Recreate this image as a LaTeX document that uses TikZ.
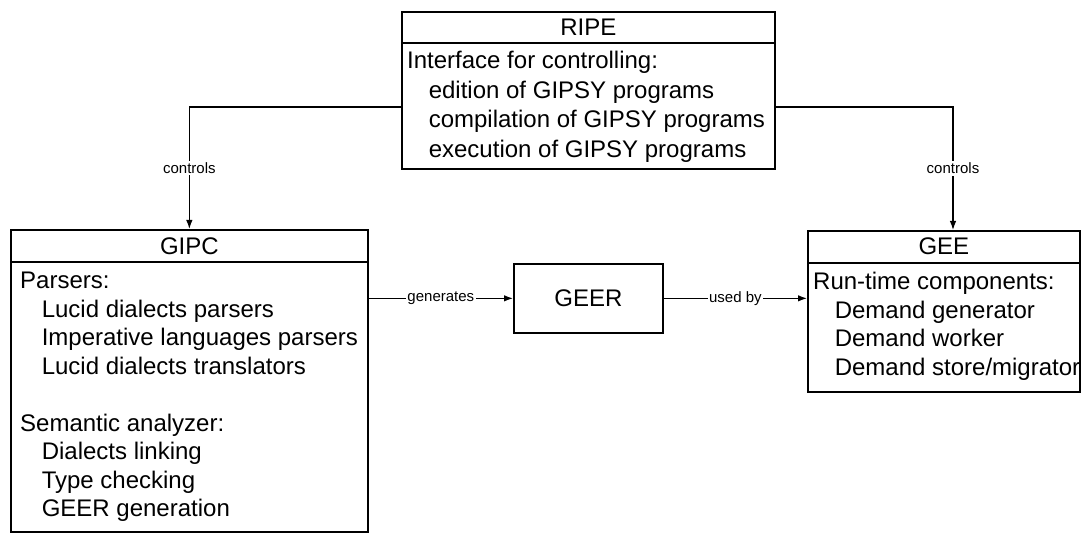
\documentclass[tikz,border=0pt]{standalone}
\usepackage{fontspec}
\setmainfont{Liberation Sans}
\usetikzlibrary{arrows.meta,calc}

\tikzset{
  box/.style={draw, line width=1.7pt, inner sep=0pt, anchor=north west},
  headline/.style={line width=1.5pt},
  titletext/.style={font=\fontsize{24}{28.5}\selectfont, inner sep=0pt},
  bodytext/.style={font=\fontsize{24}{28.5}\selectfont, align=left, inner sep=0pt, anchor=north west},
  conn/.style={line width=1.2pt, -{Latex[length=9pt,width=6.5pt]}},
  lbl/.style={font=\fontsize{15}{18}\selectfont, fill=white, inner sep=1.5pt},
}
\newcommand{\ind}{\hspace*{0.9em}}

\begin{document}
\begin{tikzpicture}[x=1pt,y=-1pt]
\useasboundingbox (0,0) rectangle (1082,534);

% component boxes
\node[box, minimum width=373pt, minimum height=157pt] (ripe) at (401,11) {};
\node[box, minimum width=357pt, minimum height=302pt] (gipc) at (10,229) {};
\node[box, minimum width=272pt, minimum height=161pt] (gee) at (807,230) {};
\node[box, minimum width=149pt, minimum height=69pt] (geer) at (513,263) {};

% header separators
\draw[headline] ([yshift=-32pt]ripe.north west) -- ([yshift=-32pt]ripe.north east);
\draw[headline] ([yshift=-33pt]gipc.north west) -- ([yshift=-33pt]gipc.north east);
\draw[headline] ([yshift=-33pt]gee.north west) -- ([yshift=-33pt]gee.north east);

% titles
\node[titletext] (ripetitle) at ([yshift=-16pt]ripe.north) {RIPE};
\node[titletext] (gipctitle) at ([yshift=-17pt]gipc.north) {GIPC};
\node[titletext] (geetitle) at ([yshift=-16.5pt]gee.north) {GEE};
\node[titletext] (geertext) at (geer.center) {GEER};

% compartment contents
\node[bodytext, font=\fontsize{24}{29.5}\selectfont] (ripebody) at ([xshift=6pt,yshift=-40pt]ripe.north west)
  {Interface for controlling:\\
   \ind edition of GIPSY programs\\
   \ind compilation of GIPSY programs\\
   \ind execution of GIPSY programs};

\node[bodytext] (gipcbody) at ([xshift=10pt,yshift=-43pt]gipc.north west)
  {Parsers:\\
   \ind Lucid dialects parsers\\
   \ind Imperative languages parsers\\
   \ind Lucid dialects translators\\[28.5pt]
   Semantic analyzer:\\
   \ind Dialects linking\\
   \ind Type checking\\
   \ind GEER generation};

\node[bodytext] (geebody) at ([xshift=6pt,yshift=-42pt]gee.north west)
  {Run-time components:\\
   \ind Demand generator\\
   \ind Demand worker\\
   \ind Demand store/migrator};

% relations
\draw[conn] ([yshift=-96pt]ripe.north west) -| node[lbl, pos=0.75] {controls} (gipc.north);
\draw[conn] ([yshift=-96pt]ripe.north east) -| node[lbl, pos=0.75] {controls} ([xshift=146pt]gee.north west);
\draw[conn] (gipc.east |- geer.west) -- node[lbl] {generates} (geer.west);
\draw[conn] (geer.east) -- node[lbl] {used by} (gee.west |- geer.east);
\end{tikzpicture}
\end{document}
